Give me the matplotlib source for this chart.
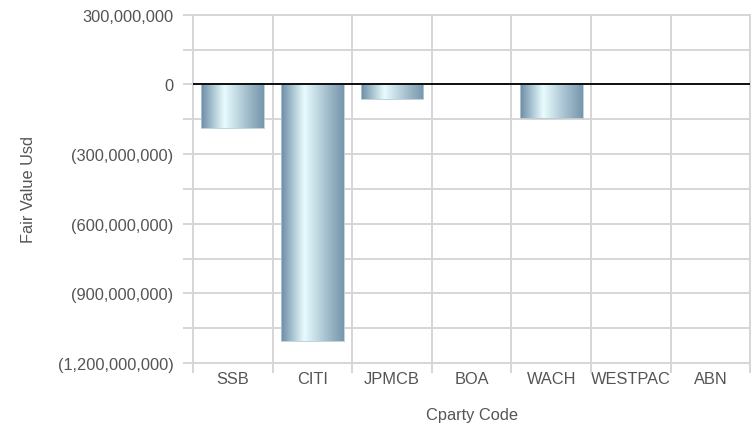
import numpy as np
import matplotlib.pyplot as plt
from matplotlib.colors import LinearSegmentedColormap
from matplotlib.ticker import FuncFormatter, MultipleLocator

# data
categories = ["SSB", "CITI", "JPMCB", "BOA", "WACH", "WESTPAC", "ABN"]
fair_value = [-190_000_000, -1_105_000_000, -61_000_000, 0, -143_000_000, 0, 0]

plt.rcParams['font.family'] = ['Liberation Sans', 'DejaVu Sans']

fig = plt.figure(figsize=(7.51, 4.35), dpi=100)
ax = fig.add_axes([0.257, 0.163, 0.742, 0.801])

grad = LinearSegmentedColormap.from_list(
    "bar", [(0.0, "#6b8ca4"), (0.37, "#e8fcfe"), (0.7, "#a9c3d1"), (1.0, "#7596ac")])
gimg = np.linspace(0, 1, 256).reshape(1, -1)

x = np.arange(len(categories))
width = 0.79
for xi, v in zip(x, fair_value):
    if v == 0:
        continue
    ax.imshow(gimg, cmap=grad, aspect='auto', interpolation='bilinear',
              extent=(xi - width / 2, xi + width / 2, v, 0), zorder=2)
    ax.add_patch(plt.Rectangle((xi - width / 2, v), width, -v, fill=False,
                               edgecolor="#b8cbd6", linewidth=0.6, zorder=3))

ax.axhline(0, color="black", linewidth=1.3, zorder=4)

ax.set_xlim(-0.5, len(categories) - 0.5)
ax.set_ylim(-1_200_000_000, 300_000_000)

def fmt(v, pos):
    if v < 0:
        return "({:,.0f})".format(-v)
    return "{:,.0f}".format(v)

ax.yaxis.set_major_locator(MultipleLocator(300_000_000))
ax.yaxis.set_minor_locator(MultipleLocator(150_000_000))
ax.yaxis.set_major_formatter(FuncFormatter(fmt))
ax.set_xticks(x)
ax.set_xticklabels(categories)
ax.set_xticks(np.arange(len(categories) + 1) - 0.5, minor=True)

gc = "#d6d6d6"
tc = "#555555"
fs = 11.8
ax.grid(True, which='minor', color=gc, linewidth=1.4, zorder=0)
ax.grid(True, which='major', axis='y', color=gc, linewidth=1.4, zorder=0)
ax.set_axisbelow(True)
ax.tick_params(axis='y', which='both', length=7.5, width=1.4, color=gc,
               labelsize=fs, labelcolor=tc, pad=6.5)
ax.tick_params(axis='x', which='major', length=0, labelsize=fs,
               labelcolor=tc, pad=5.5)
ax.tick_params(axis='x', which='minor', length=7.5, width=1.4, color=gc)
for s in ax.spines.values():
    s.set_color(gc)
    s.set_linewidth(1.4)

ax.set_ylabel("Fair Value Usd", fontsize=fs, color=tc, labelpad=16)
ax.set_xlabel("Cparty Code", fontsize=fs, color=tc, labelpad=15)

fig.savefig("out.png", dpi=100)
